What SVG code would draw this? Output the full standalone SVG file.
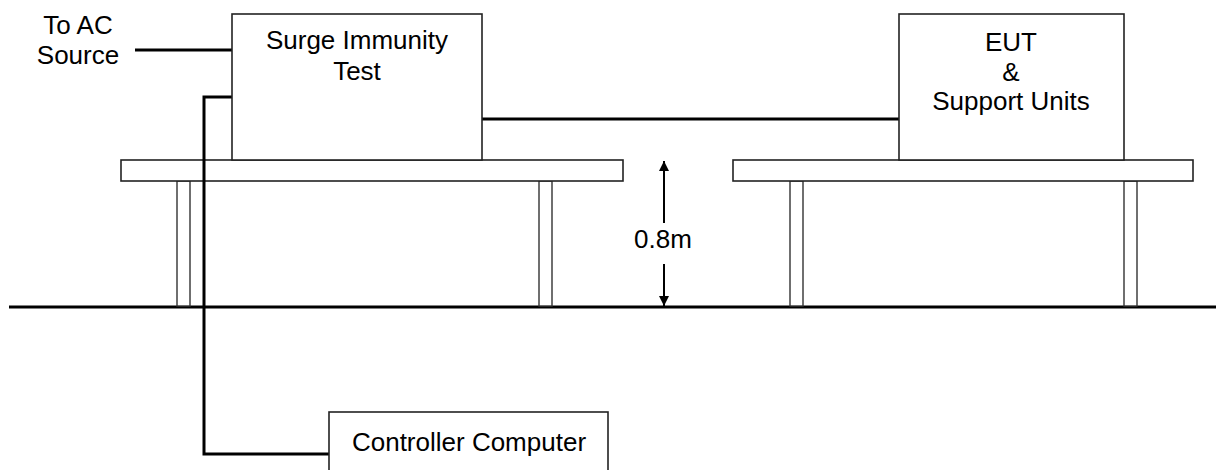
<svg xmlns="http://www.w3.org/2000/svg" width="1216" height="470" viewBox="0 0 1216 470">
<style>
.box{fill:#fff;stroke:#222;stroke-width:1.6}
.leg{fill:#fff;stroke:#333;stroke-width:1.4}
.cable{fill:none;stroke:#000;stroke-width:3}
.dim{fill:none;stroke:#000;stroke-width:2}
text{font-family:"Liberation Sans",Arial,sans-serif;font-size:26px;fill:#000;text-anchor:middle}
</style>
<defs>
<marker id="ah" viewBox="0 0 10 10" refX="10" refY="5" markerWidth="10" markerHeight="10" markerUnits="userSpaceOnUse" orient="auto">
<path d="M0,0 L10,5 L0,10 z" fill="#000"/>
</marker>
</defs>
<g id="ground"><line x1="9" y1="307" x2="1216" y2="307" class="cable"/></g>
<g id="table1">
<rect class="leg" x="177" y="181" width="13" height="125"/>
<rect class="leg" x="539" y="181" width="13" height="125"/>
<rect class="box" x="121" y="160" width="502" height="21"/>
</g>
<g id="table2">
<rect class="leg" x="790" y="181" width="13" height="125"/>
<rect class="leg" x="1124" y="181" width="13" height="125"/>
<rect class="box" x="733" y="160" width="460" height="21"/>
</g>
<g id="connectors">
<line class="cable" x1="135" y1="50" x2="232" y2="50"/>
<line class="cable" x1="482" y1="119" x2="899" y2="119"/>
<polyline class="cable" points="232,97 204,97 204,454 329,454"/>
<line class="dim" x1="664" y1="223" x2="664" y2="161" marker-end="url(#ah)"/>
<line class="dim" x1="664" y1="264" x2="664" y2="306" marker-end="url(#ah)"/>
</g>
<g id="ac-source">
<text x="78" y="34">To AC</text>
<text x="78" y="64">Source</text>
</g>
<g id="surge">
<rect class="box" x="232" y="14" width="250" height="146"/>
<text x="357" y="49">Surge Immunity</text>
<text x="357" y="80">Test</text>
</g>
<g id="eut">
<rect class="box" x="899" y="14" width="225" height="146"/>
<text x="1011" y="51">EUT</text>
<text x="1011" y="81">&amp;</text>
<text x="1011" y="110">Support Units</text>
</g>
<g id="controller">
<rect class="box" x="329" y="412" width="279" height="70"/>
<text x="469" y="451">Controller Computer</text>
</g>
<g id="height-label"><text x="663" y="248">0.8m</text></g>
</svg>
